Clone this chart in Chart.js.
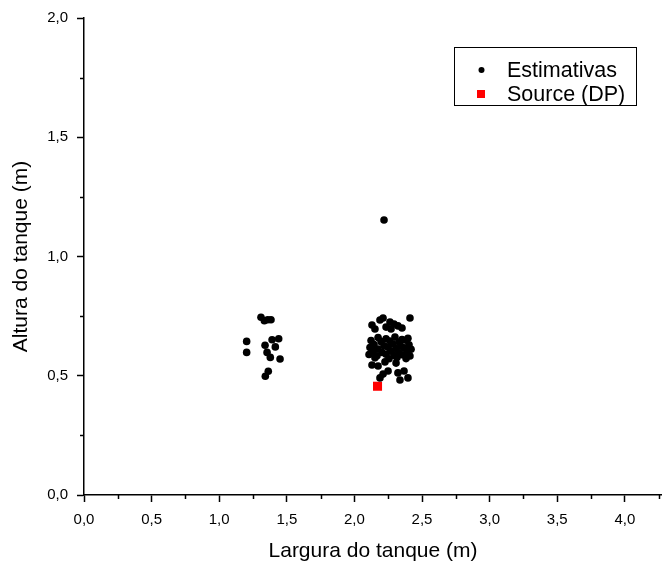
<!DOCTYPE html>
<html>
<head>
<meta charset="utf-8">
<script src="https://cdn.jsdelivr.net/npm/chart.js@4/dist/chart.umd.min.js"></script>
<style>
  html, body { margin: 0; padding: 0; background: #ffffff; }
  #wrap { width: 662px; height: 566px; }
</style>
</head>
<body>
<div id="wrap"><canvas id="c" width="662" height="566"></canvas></div>
<script>
// Estimated tank width / height (m)
const estX = [
  // smaller tanks
  1.309, 1.334, 1.359, 1.383, 1.203, 1.203, 1.339, 1.391, 1.440, 1.415, 1.354, 1.378, 1.450, 1.363, 1.341,
  // upper group
  2.130, 2.152, 2.189, 2.212, 2.263, 2.293, 2.322, 2.352, 2.411, 2.271, 2.234,
  // core group
  2.175, 2.234, 2.300, 2.352, 2.396,
  2.123, 2.197, 2.263, 2.330, 2.382,
  2.145, 2.219, 2.285, 2.345, 2.404,
  2.115, 2.175, 2.249, 2.308, 2.367, 2.419,
  2.138, 2.204, 2.271, 2.330, 2.389,
  2.108, 2.167, 2.234, 2.293, 2.352, 2.411,
  2.152, 2.256, 2.315, 2.382,
  // lower group
  2.130, 2.175, 2.226, 2.308, 2.249, 2.212, 2.189, 2.322, 2.367, 2.337, 2.396,
  // outlier
  2.219
];
const estY = [
  0.745, 0.731, 0.735, 0.735, 0.644, 0.598, 0.628, 0.651, 0.655, 0.621, 0.598, 0.577, 0.570, 0.519, 0.498,
  0.713, 0.696, 0.734, 0.742, 0.725, 0.717, 0.709, 0.700, 0.742, 0.696, 0.704,
  0.660, 0.655, 0.662, 0.652, 0.657,
  0.648, 0.643, 0.646, 0.641, 0.649,
  0.631, 0.626, 0.633, 0.624, 0.630,
  0.618, 0.612, 0.619, 0.614, 0.617, 0.611,
  0.602, 0.598, 0.603, 0.596, 0.601,
  0.589, 0.584, 0.590, 0.585, 0.588, 0.583,
  0.575, 0.571, 0.577, 0.572,
  0.545, 0.541, 0.558, 0.553, 0.520, 0.507, 0.491, 0.512, 0.520, 0.482, 0.491,
  1.153
];
// Reference tank dimensions
const srcX = [2.171];
const srcY = [0.456];

// Axis ticks (major every 0.5, minor every 0.25)
const xTicks = [0, 0.25, 0.5, 0.75, 1, 1.25, 1.5, 1.75, 2, 2.25, 2.5, 2.75, 3, 3.25, 3.5, 3.75, 4, 4.25];
const yTicks = [0, 0.25, 0.5, 0.75, 1, 1.25, 1.5, 1.75, 2];

const seriesNames = ['Estimativas', 'Source (DP)'];
const axisTitles = ['Largura do tanque (m)', 'Altura do tanque (m)'];

const FONT = "'Liberation Sans', Arial, Helvetica, sans-serif";
const isMajor = v => Math.abs(v * 2 - Math.round(v * 2)) < 1e-6;
const fmt = v => v.toFixed(1).replace('.', ',');

// Short minor tick marks drawn outward from the axes
const minorTicks = {
  id: 'minorTicks',
  afterDraw(chart) {
    const ctx = chart.ctx;
    ctx.save();
    ctx.strokeStyle = '#000';
    ctx.lineWidth = 1.5;
    const xs = chart.scales.x, ys = chart.scales.y;
    xs.ticks.forEach(t => {
      if (isMajor(t.value)) return;
      const px = Math.round(xs.getPixelForValue(t.value)) + 0.5;
      ctx.beginPath(); ctx.moveTo(px, xs.top); ctx.lineTo(px, xs.top + 4); ctx.stroke();
    });
    ys.ticks.forEach(t => {
      if (isMajor(t.value)) return;
      const py = Math.round(ys.getPixelForValue(t.value)) + 0.5;
      ctx.beginPath(); ctx.moveTo(ys.right, py); ctx.lineTo(ys.right - 4, py); ctx.stroke();
    });
    ctx.restore();
  }
};

// Boxed legend in the upper right of the plot
const boxLegend = {
  id: 'boxLegend',
  afterDraw(chart) {
    const ctx = chart.ctx;
    const left = 454, top = 47, w = 182, h = 58;
    ctx.save();
    ctx.fillStyle = '#fff';
    ctx.fillRect(left, top, w, h);
    ctx.strokeStyle = '#000';
    ctx.lineWidth = 1;
    ctx.strokeRect(left + 0.5, top + 0.5, w, h);
    ctx.font = '21.5px ' + FONT;
    ctx.textBaseline = 'middle';
    ctx.textAlign = 'left';
    const rows = [top + 23, top + 47];
    chart.data.datasets.forEach((ds, i) => {
      const y = rows[i];
      ctx.fillStyle = ds.backgroundColor;
      if (ds.pointStyle === 'rect') {
        ctx.fillRect(left + 23, y - 4, 8, 8);
      } else {
        ctx.beginPath(); ctx.arc(left + 27.5, y, 3, 0, Math.PI * 2); ctx.fill();
      }
      ctx.fillStyle = '#000';
      ctx.fillText(ds.label, left + 53, y + 1);
    });
    ctx.restore();
  }
};

new Chart(document.getElementById('c'), {
  type: 'scatter',
  data: {
    datasets: [
      {
        label: seriesNames[0],
        data: estX.map((x, i) => ({ x: x, y: estY[i] })),
        backgroundColor: '#000000',
        borderWidth: 0,
        pointStyle: 'circle',
        pointRadius: 3.8,
        pointHoverRadius: 3.8
      },
      {
        label: seriesNames[1],
        data: srcX.map((x, i) => ({ x: x, y: srcY[i] })),
        backgroundColor: '#ff0000',
        borderWidth: 0,
        pointStyle: 'rect',
        pointRadius: 6.4,
        pointHoverRadius: 6.4
      }
    ]
  },
  options: {
    responsive: false,
    animation: false,
    devicePixelRatio: 1,
    layout: { autoPadding: false, padding: { left: 0, right: 0, top: 18, bottom: 0 } },
    plugins: {
      legend: { display: false },
      tooltip: { enabled: false }
    },
    scales: {
      x: {
        type: 'linear',
        min: 0,
        max: 4.275,
        afterBuildTicks: s => { s.ticks = xTicks.map(v => ({ value: v })); },
        afterFit: s => { s.height = 71; s.paddingRight = 0; s.paddingLeft = 0; },
        border: { display: true, color: '#000', width: 1.5 },
        grid: {
          display: true,
          drawOnChartArea: false,
          drawTicks: true,
          tickLength: 7,
          tickWidth: 1.5,
          tickColor: c => isMajor(c.tick.value) ? '#000' : 'rgba(0,0,0,0)'
        },
        ticks: {
          autoSkip: false,
          maxRotation: 0,
          padding: 9,
          color: '#000',
          font: { family: FONT, size: 15 },
          callback: v => isMajor(v) ? fmt(v) : ''
        },
        title: {
          display: true,
          text: axisTitles[0],
          color: '#000',
          font: { family: FONT, size: 21 },
          padding: { top: 0, bottom: 2 }
        }
      },
      y: {
        type: 'linear',
        min: 0,
        max: 2,
        afterBuildTicks: s => { s.ticks = yTicks.map(v => ({ value: v })); },
        afterFit: s => { s.width = 84; },
        border: { display: true, color: '#000', width: 1.5 },
        grid: {
          display: true,
          drawOnChartArea: false,
          drawTicks: true,
          tickLength: 7,
          tickWidth: 1.5,
          tickColor: c => isMajor(c.tick.value) ? '#000' : 'rgba(0,0,0,0)'
        },
        ticks: {
          autoSkip: false,
          padding: 9,
          color: '#000',
          font: { family: FONT, size: 15 },
          callback: v => isMajor(v) ? fmt(v) : ''
        },
        title: {
          display: true,
          text: axisTitles[1],
          color: '#000',
          font: { family: FONT, size: 21 },
          padding: { top: 9, bottom: 0 }
        }
      }
    }
  },
  plugins: [minorTicks, boxLegend]
});
</script>
</body>
</html>
